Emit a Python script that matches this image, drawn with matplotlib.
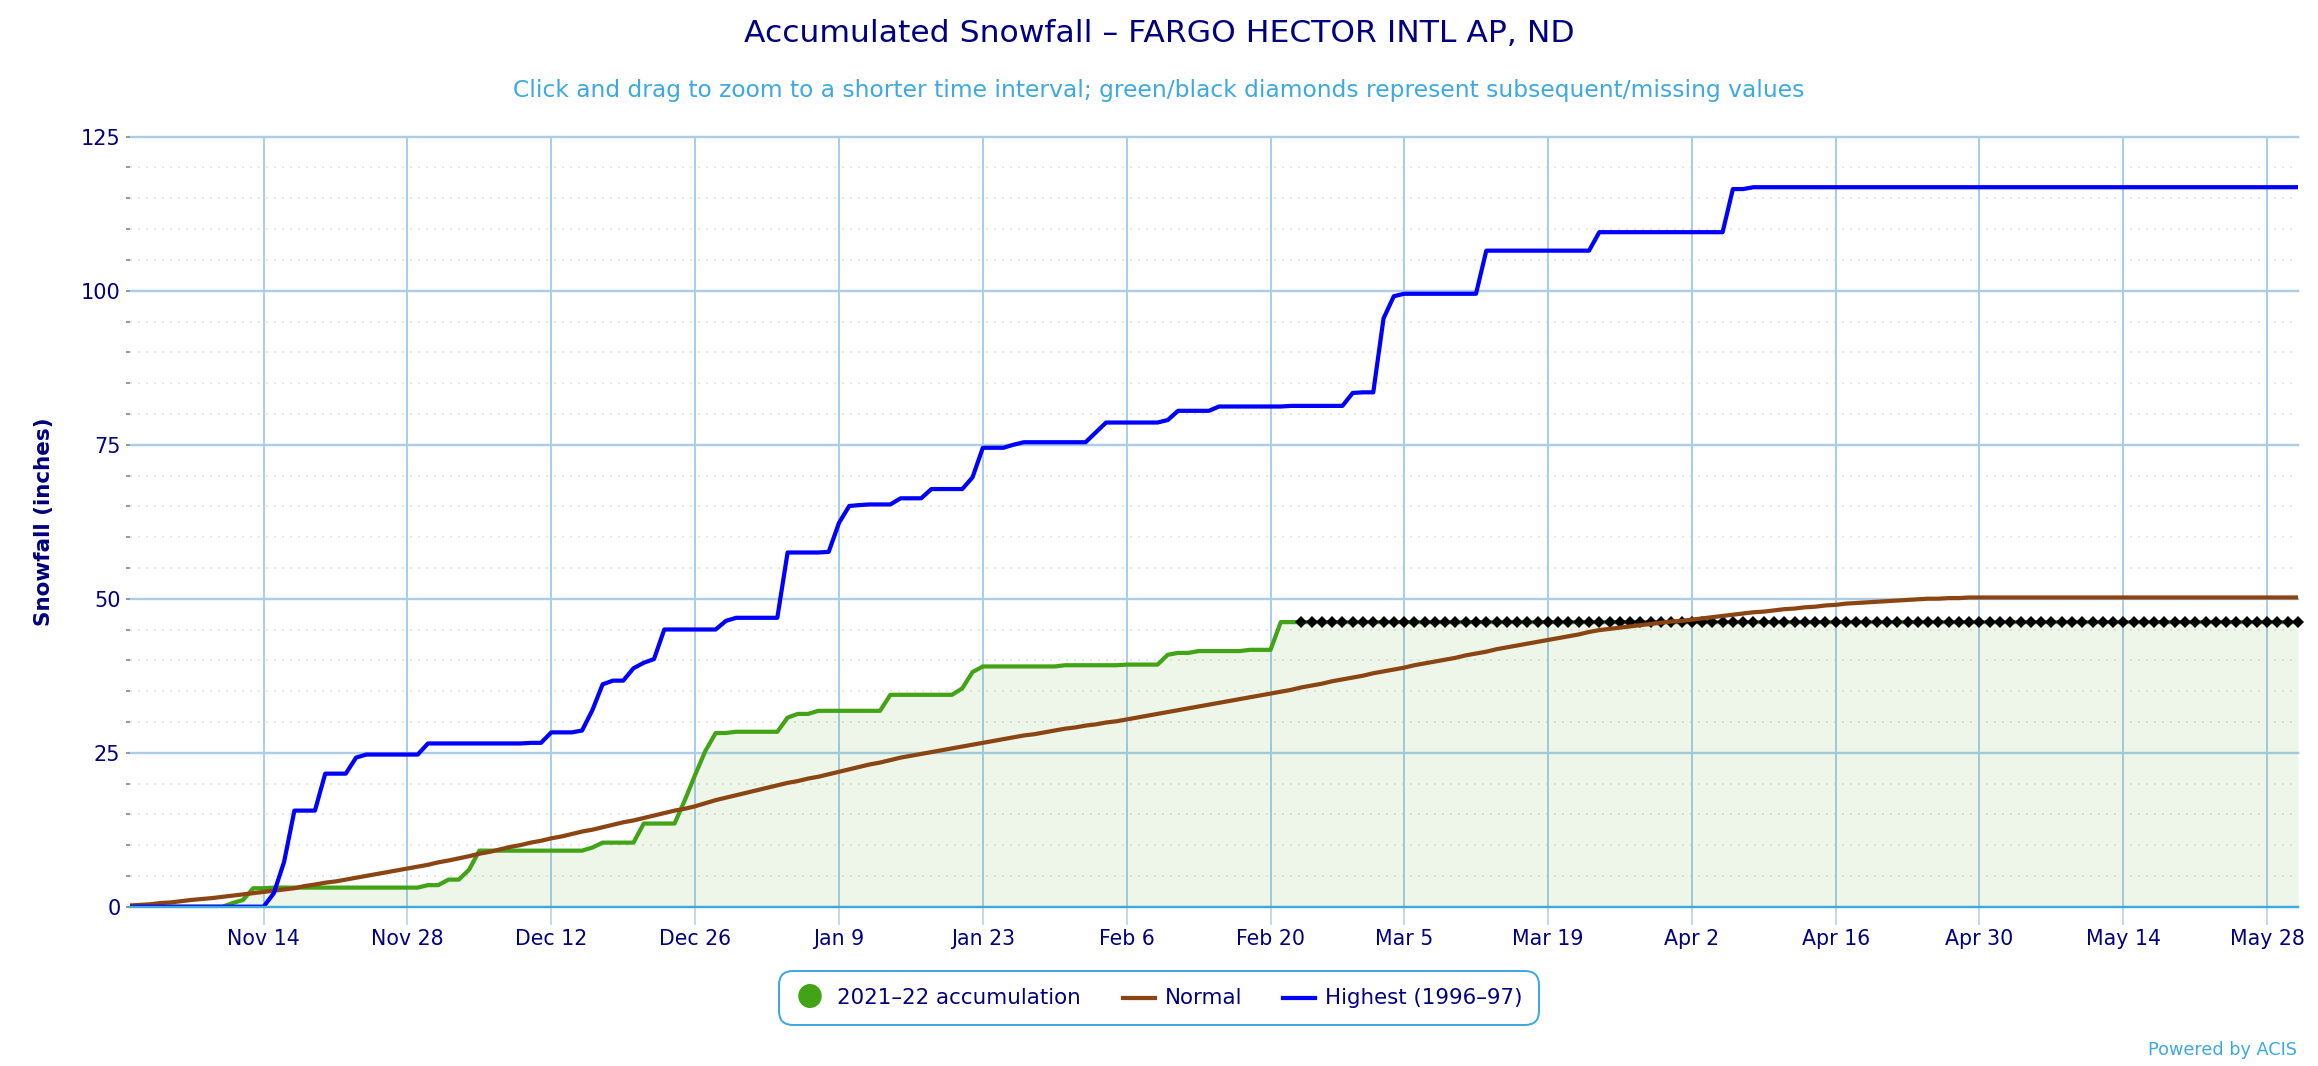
import matplotlib
matplotlib.use("Agg")
import matplotlib.pyplot as plt
import pandas as pd
from matplotlib.patches import FancyBboxPatch, Ellipse
from matplotlib.lines import Line2D

TITLE = "Accumulated Snowfall – FARGO HECTOR INTL AP, ND"
SUBTITLE = "Click and drag to zoom to a shorter time interval; green/black diamonds represent subsequent/missing values"
YLABEL = "Snowfall (inches)"
CREDIT = "Powered by ACIS"
LEGEND_LABELS = ["2021–22 accumulation", "Normal", "Highest (1996–97)"]

START = "2021-11-01"
tick_dates = ["2021-11-14", "2021-11-28", "2021-12-12", "2021-12-26", "2022-01-09",
              "2022-01-23", "2022-02-06", "2022-02-20", "2022-03-05", "2022-03-19",
              "2022-04-02", "2022-04-16", "2022-04-30", "2022-05-14", "2022-05-28"]
tick_labels = ["Nov 14", "Nov 28", "Dec 12", "Dec 26", "Jan 9", "Jan 23", "Feb 6", "Feb 20",
               "Mar 5", "Mar 19", "Apr 2", "Apr 16", "Apr 30", "May 14", "May 28"]
y_major = [0, 25, 50, 75, 100, 125]
y_minor = [5, 10, 15, 20, 30, 35, 40, 45, 55, 60, 65, 70, 80, 85, 90, 95, 105, 110, 115, 120]

accumulation = [
    0, 0, 0, 0, 0, 0, 0, 0, 0, 0,
    0.6, 1.1, 3.0, 3.0, 3.1, 3.1, 3.1, 3.1, 3.1, 3.1,
    3.1, 3.1, 3.1, 3.1, 3.1, 3.1, 3.1, 3.1, 3.1, 3.5,
    3.5, 4.4, 4.4, 6.0, 9.1, 9.1, 9.1, 9.1, 9.1, 9.1,
    9.1, 9.1, 9.1, 9.1, 9.1, 9.6, 10.4, 10.4, 10.4, 10.4,
    13.5, 13.5, 13.5, 13.5, 17.3, 21.4, 25.3, 28.2, 28.2, 28.4,
    28.4, 28.4, 28.4, 28.4, 30.7, 31.3, 31.3, 31.8, 31.8, 31.8,
    31.8, 31.8, 31.8, 31.8, 34.4, 34.4, 34.4, 34.4, 34.4, 34.4,
    34.4, 35.45, 38.1, 39.0, 39.0, 39.0, 39.0, 39.0, 39.0, 39.0,
    39.0, 39.2, 39.2, 39.2, 39.2, 39.2, 39.2, 39.3, 39.3, 39.3,
    39.3, 40.9, 41.2, 41.2, 41.5, 41.5, 41.5, 41.5, 41.5, 41.7,
    41.7, 41.7, 46.2, 46.2, 46.2, 46.2, 46.2, 46.2, 46.2, 46.2,
    46.2, 46.2, 46.2, 46.2, 46.2, 46.2, 46.2, 46.2, 46.2, 46.2,
    46.2, 46.2, 46.2, 46.2, 46.2, 46.2, 46.2, 46.2, 46.2, 46.2,
    46.2, 46.2, 46.2, 46.2, 46.2, 46.2, 46.2, 46.2, 46.2, 46.2,
    46.2, 46.2, 46.2, 46.2, 46.2, 46.2, 46.2, 46.2, 46.2, 46.2,
    46.2, 46.2, 46.2, 46.2, 46.2, 46.2, 46.2, 46.2, 46.2, 46.2,
    46.2, 46.2, 46.2, 46.2, 46.2, 46.2, 46.2, 46.2, 46.2, 46.2,
    46.2, 46.2, 46.2, 46.2, 46.2, 46.2, 46.2, 46.2, 46.2, 46.2,
    46.2, 46.2, 46.2, 46.2, 46.2, 46.2, 46.2, 46.2, 46.2, 46.2,
    46.2, 46.2, 46.2, 46.2, 46.2, 46.2, 46.2, 46.2, 46.2, 46.2,
    46.2, 46.2,
]
normal = [
    0.2, 0.3, 0.4, 0.6, 0.7, 0.9, 1.1, 1.25, 1.4, 1.6,
    1.8, 2.0, 2.2, 2.4, 2.6, 2.8, 3.0, 3.35, 3.6, 3.9,
    4.1, 4.4, 4.7, 5.0, 5.3, 5.6, 5.9, 6.2, 6.5, 6.8,
    7.2, 7.5, 7.85, 8.2, 8.6, 8.9, 9.3, 9.7, 10.0, 10.4,
    10.7, 11.1, 11.4, 11.8, 12.2, 12.5, 12.9, 13.3, 13.7, 14.0,
    14.4, 14.8, 15.2, 15.6, 15.9, 16.3, 16.8, 17.3, 17.7, 18.1,
    18.5, 18.9, 19.3, 19.7, 20.1, 20.4, 20.8, 21.1, 21.5, 21.9,
    22.3, 22.7, 23.1, 23.4, 23.8, 24.2, 24.5, 24.8, 25.1, 25.4,
    25.7, 26.0, 26.3, 26.6, 26.9, 27.2, 27.5, 27.8, 28.0, 28.3,
    28.6, 28.9, 29.1, 29.4, 29.6, 29.9, 30.1, 30.4, 30.7, 31.0,
    31.3, 31.6, 31.9, 32.2, 32.5, 32.8, 33.1, 33.4, 33.7, 34.0,
    34.3, 34.6, 34.9, 35.2, 35.6, 35.9, 36.2, 36.6, 36.9, 37.2,
    37.5, 37.9, 38.2, 38.5, 38.8, 39.2, 39.5, 39.8, 40.1, 40.4,
    40.8, 41.1, 41.4, 41.8, 42.1, 42.4, 42.7, 43.0, 43.3, 43.6,
    43.9, 44.2, 44.6, 44.9, 45.1, 45.3, 45.5, 45.7, 45.9, 46.1,
    46.3, 46.4, 46.6, 46.8, 47.0, 47.2, 47.4, 47.6, 47.8, 47.9,
    48.1, 48.3, 48.4, 48.6, 48.7, 48.9, 49.0, 49.2, 49.3, 49.4,
    49.5, 49.6, 49.7, 49.8, 49.9, 50.0, 50.0, 50.1, 50.1, 50.2,
    50.2, 50.2, 50.2, 50.2, 50.2, 50.2, 50.2, 50.2, 50.2, 50.2,
    50.2, 50.2, 50.2, 50.2, 50.2, 50.2, 50.2, 50.2, 50.2, 50.2,
    50.2, 50.2, 50.2, 50.2, 50.2, 50.2, 50.2, 50.2, 50.2, 50.2,
    50.2, 50.2,
]
highest = [
    0, 0, 0, 0, 0, 0, 0, 0, 0, 0,
    0, 0, 0, 0, 2.2, 7.3, 15.6, 15.6, 15.6, 21.6,
    21.6, 21.6, 24.2, 24.7, 24.7, 24.7, 24.7, 24.7, 24.7, 26.5,
    26.5, 26.5, 26.5, 26.5, 26.5, 26.5, 26.5, 26.5, 26.5, 26.6,
    26.6, 28.3, 28.3, 28.3, 28.6, 31.9, 36.1, 36.7, 36.7, 38.7,
    39.6, 40.2, 45.0, 45.0, 45.0, 45.0, 45.0, 45.0, 46.4, 46.9,
    46.9, 46.9, 46.9, 46.9, 57.5, 57.5, 57.5, 57.5, 57.6, 62.3,
    65.05, 65.2, 65.3, 65.3, 65.3, 66.3, 66.3, 66.3, 67.8, 67.8,
    67.8, 67.8, 69.7, 74.5, 74.5, 74.5, 75.0, 75.4, 75.4, 75.4,
    75.4, 75.4, 75.4, 75.4, 77.0, 78.6, 78.6, 78.6, 78.6, 78.6,
    78.6, 79.0, 80.5, 80.5, 80.5, 80.5, 81.2, 81.2, 81.2, 81.2,
    81.2, 81.2, 81.2, 81.3, 81.3, 81.3, 81.3, 81.3, 81.3, 83.4,
    83.5, 83.5, 95.5, 99.1, 99.5, 99.5, 99.5, 99.5, 99.5, 99.5,
    99.5, 99.5, 106.5, 106.5, 106.5, 106.5, 106.5, 106.5, 106.5, 106.5,
    106.5, 106.5, 106.5, 109.5, 109.5, 109.5, 109.5, 109.5, 109.5, 109.5,
    109.5, 109.5, 109.5, 109.5, 109.5, 109.5, 116.5, 116.5, 116.8, 116.8,
    116.8, 116.8, 116.8, 116.8, 116.8, 116.8, 116.8, 116.8, 116.8, 116.8,
    116.8, 116.8, 116.8, 116.8, 116.8, 116.8, 116.8, 116.8, 116.8, 116.8,
    116.8, 116.8, 116.8, 116.8, 116.8, 116.8, 116.8, 116.8, 116.8, 116.8,
    116.8, 116.8, 116.8, 116.8, 116.8, 116.8, 116.8, 116.8, 116.8, 116.8,
    116.8, 116.8, 116.8, 116.8, 116.8, 116.8, 116.8, 116.8, 116.8, 116.8,
    116.8, 116.8,
]
FIRST_MISSING = 114  # day index from which values are shown as diamonds

NAVY = "#000080"
SKY = "#3DA9E0"
GRID = "#ABCDE8"
XTICK = "#CCD6EB"
GRAY = "#999999"
GREEN = "#42A316"
BROWN = "#8B4513"
BLUE = "#0000FF"

W, H = 2318, 1066
L, R, T, B = 130, 2298, 136.7, 906.7

plt.rcParams["font.family"] = "DejaVu Sans"
fig = plt.figure(figsize=(W / 100, H / 100), dpi=100, facecolor="white")
ax = fig.add_axes([L / W, 1 - B / H, (R - L) / W, (B - T) / H])

dates = pd.date_range(START, periods=len(accumulation), freq="D")
ticks = pd.to_datetime(tick_dates)

px = 0.72
for v in y_minor:
    ax.axhline(v, color="#E8E8E8", lw=2 * px, ls=(0, (1, 3)), zorder=1)
for v in y_major[1:]:
    ax.axhline(v, color=GRID, lw=2.4 * px, zorder=1.1, clip_on=False)
for t in ticks:
    ax.axvline(t, color=GRID, lw=2 * px, zorder=1.1)

ax.fill_between(dates, accumulation, 0, color=GREEN, alpha=0.09, lw=0, zorder=2)
ax.plot(dates, accumulation, color=GREEN, lw=4.2 * px, zorder=3, solid_joinstyle="round")
ax.plot(dates[FIRST_MISSING:], accumulation[FIRST_MISSING:], ls="none", marker="D",
        ms=6.2, color="black", mew=0, zorder=4, clip_on=False)
ax.plot(dates, normal, color=BROWN, lw=4.2 * px, zorder=5, solid_joinstyle="round")
ax.plot(dates, highest, color=BLUE, lw=4.2 * px, zorder=6, solid_joinstyle="round")

ax.set_xlim(dates[0], dates[-1])
ax.set_ylim(y_major[0], y_major[-1])
for s in ["top", "right", "left"]:
    ax.spines[s].set_visible(False)
ax.spines["bottom"].set_color(SKY)
ax.spines["bottom"].set_linewidth(2.4 * px)
ax.spines["bottom"].set_zorder(7)

ax.set_xticks(ticks)
ax.set_xticklabels(tick_labels)
ax.set_yticks(y_major)
ax.set_yticks(y_minor, minor=True)
ax.tick_params(axis="x", length=18 * px, width=2 * px, color=XTICK, labelcolor=NAVY,
               labelsize=14.8, pad=3)
ax.tick_params(axis="y", which="major", length=4 * px, width=2 * px, color=GRAY, labelcolor=NAVY,
               labelsize=15, pad=4)
ax.tick_params(axis="y", which="minor", length=4 * px, width=2 * px, color=GRAY)

fig.text(1159 / W, 1 - 33 / H, TITLE, color=NAVY, fontsize=22.6, ha="center", va="center")
fig.text(1159 / W, 1 - 91 / H, SUBTITLE, color=SKY, fontsize=16.8, ha="center", va="center")
fig.text(44 / W, 1 - 522 / H, YLABEL, color=NAVY, fontsize=15.5, fontweight="bold", rotation=90,
         ha="center", va="center")
fig.text(2297 / W, 1 - 1050 / H, CREDIT, color=SKY, fontsize=12.7, ha="right", va="center")

# Legend drawn in figure pixel coordinates
overlay = fig.add_axes([0, 0, 1, 1], facecolor="none")
overlay.set_xlim(0, W)
overlay.set_ylim(H, 0)
overlay.axis("off")
overlay.add_patch(FancyBboxPatch((779 + 14, 971 + 14), 760 - 28, 54 - 28,
                                 boxstyle="round,pad=14", fc="white", ec=SKY, lw=2 * px))
overlay.add_patch(Ellipse((810, 996), 23.5, 24, fc=GREEN, ec="none"))
overlay.add_line(Line2D([1123, 1155], [998, 998], color=BROWN, lw=4.2 * px))
overlay.add_line(Line2D([1283, 1315], [998, 998], color=BLUE, lw=4.2 * px))
for x, label in zip([837, 1165, 1325], LEGEND_LABELS):
    overlay.text(x, 998, label, color=NAVY, fontsize=15.4, ha="left", va="center")

fig.savefig("out.png", dpi=100, facecolor="white")
